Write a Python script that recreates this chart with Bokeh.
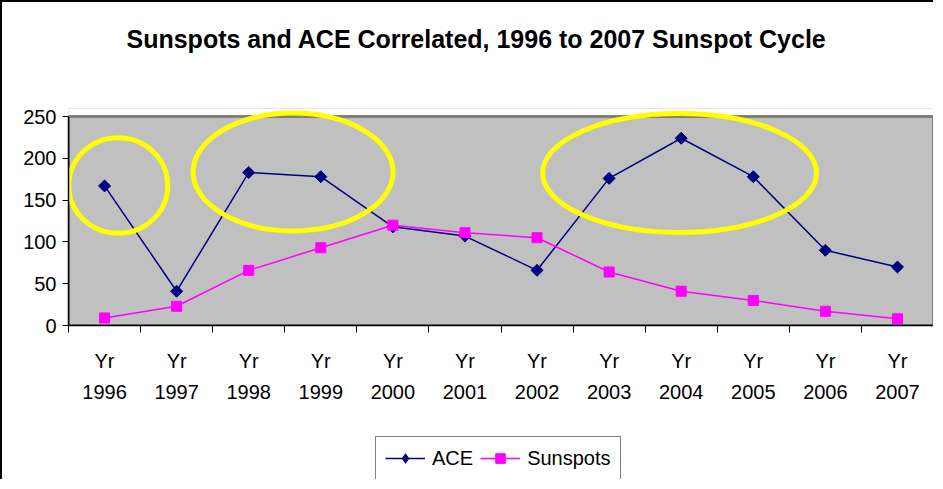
import numpy as np
from bokeh.plotting import figure
from bokeh.layouts import column
from bokeh.models import (LinearAxis, FixedTicker, Range1d, Legend, LegendItem,
                          BoxAnnotation, Title)
from bokeh.embed import file_html
from bokeh.resources import INLINE

# ---- data ----
years = ["1996", "1997", "1998", "1999", "2000", "2001", "2002", "2003", "2004", "2005", "2006", "2007"]
ace = [167, 41, 183, 178, 118, 107, 66, 176, 224, 178, 90, 70]
sunspots = [9, 23, 66, 93, 120, 111, 105, 64, 41, 30, 17, 8]
y_ticks = [0, 50, 100, 150, 200, 250]
y_max = 250

# highlight ellipses (center x, center y, width, height) in data units
ell_cx = [0.69, 3.115, 8.477]
ell_cy = [167.5, 183.6, 182.4]
ell_w = [1.373, 2.775, 3.80]
ell_h = [114.4, 141.0, 142.3]

FONT = "Liberation Sans"
n = len(years)
xc = [i + 0.5 for i in range(n)]
bounds = list(range(n + 1))

p = figure(width=933, height=430, output_backend="svg", toolbar_location=None,
           x_axis_type=None, y_axis_type=None, title=None,
           x_range=Range1d(0, n), y_range=Range1d(0, 259.6),
           min_border_left=66, min_border_right=2, min_border_top=106, min_border_bottom=107)
p.styles = {"border-left": "2px solid black", "border-top": "2px solid black"}

p.background_fill_color = "#C0C0C0"
p.border_fill_color = "white"
p.outline_line_color = None

# invisible spacer between plot area and title
sp = LinearAxis(ticker=FixedTicker(ticks=[0], minor_ticks=[]))
sp.major_label_overrides = {0: ""}
sp.major_label_text_font_size = "1px"
sp.major_label_standoff = 0
sp.axis_line_color = None
sp.major_tick_line_color = None
sp.major_tick_out = 56
sp.major_tick_in = 0
p.add_layout(sp, "above")

title = Title(text="Sunspots and ACE Correlated, 1996 to 2007 Sunspot Cycle",
              text_font=FONT, text_font_size="25px", text_font_style="bold",
              text_color="black", align="left", offset=58, standoff=0,
              vertical_align="bottom")
p.add_layout(title, "above")

# white strip above the plot area (room for the annotation ellipses)
p.add_layout(BoxAnnotation(bottom=y_max, fill_color="white", fill_alpha=1,
                           line_color=None, level="underlay"))
# plot-area border
p.add_layout(BoxAnnotation(left=0, right=n, bottom=0, top=y_max, fill_alpha=0,
                           line_color="#808080", line_width=3, line_alpha=1,
                           level="underlay"))

# y axis
yax = LinearAxis(ticker=FixedTicker(ticks=y_ticks, minor_ticks=[]), bounds=(0, y_max))
yax.axis_line_color = "black"
yax.axis_line_width = 1.5
yax.major_tick_out = 6
yax.major_tick_in = 0
yax.major_tick_line_color = "black"
yax.major_label_standoff = 6
yax.major_label_text_font = FONT
yax.major_label_text_font_size = "20px"
yax.major_label_text_color = "black"
p.add_layout(yax, "left")

# x axis line with ticks between categories
xax0 = LinearAxis(ticker=FixedTicker(ticks=bounds, minor_ticks=[]))
xax0.major_label_overrides = {b: "" for b in bounds}
xax0.major_label_text_font_size = "1px"
xax0.major_label_standoff = 0
xax0.axis_line_color = "black"
xax0.axis_line_width = 1.5
xax0.major_tick_out = 7
xax0.major_tick_in = 0
xax0.major_tick_line_color = "black"
p.add_layout(xax0, "below")

# "Yr" row
xax1 = LinearAxis(ticker=FixedTicker(ticks=xc, minor_ticks=[]))
xax1.major_label_overrides = {x: "Yr" for x in xc}
xax1.axis_line_color = None
xax1.major_tick_line_color = None
xax1.major_tick_out = 0
xax1.major_tick_in = 0
xax1.major_label_standoff = 17
xax1.major_label_text_font = FONT
xax1.major_label_text_font_size = "20px"
xax1.major_label_text_color = "black"
p.add_layout(xax1, "below")

# year row
xax2 = LinearAxis(ticker=FixedTicker(ticks=xc, minor_ticks=[]))
xax2.major_label_overrides = {x: y for x, y in zip(xc, years)}
xax2.axis_line_color = None
xax2.major_tick_line_color = None
xax2.major_tick_out = 0
xax2.major_tick_in = 0
xax2.major_label_standoff = 10
xax2.major_label_text_font = FONT
xax2.major_label_text_font_size = "20px"
xax2.major_label_text_color = "black"
p.add_layout(xax2, "below")

p.ygrid.ticker = FixedTicker(ticks=[50, 100, 150, 200])
p.ygrid.grid_line_color = "black"
p.ygrid.grid_line_width = 1
p.xgrid.grid_line_color = None

p.line(xc, ace, line_color="#000080", line_width=1.5)
p.scatter(xc, ace, marker="square", angle=np.pi / 4, size=8.5,
          fill_color="#000080", line_color="#000080")
p.line(xc, sunspots, line_color="#FF00FF", line_width=1.5)
p.scatter(xc, sunspots, marker="square", size=10,
          fill_color="#FF00FF", line_color="#FF00FF")

p.ellipse(x=ell_cx, y=ell_cy, width=ell_w, height=ell_h, fill_alpha=0,
          line_color="#FFFF00", line_width=5)

# ---- legend strip (series drawn off-range; only their legend keys show) ----
p2 = figure(width=933, height=49, output_backend="svg", toolbar_location=None,
            x_axis_type=None, y_axis_type=None, title=None,
            x_range=Range1d(0, 1), y_range=Range1d(-2, -1),
            min_border_left=0, min_border_right=0, min_border_top=0, min_border_bottom=0)
p2.styles = {"border-left": "2px solid black"}
p2.outline_line_color = None
p2.background_fill_color = "white"
p2.grid.grid_line_color = None
l1 = p2.line(xc, ace, line_color="#000080", line_width=1.5)
m1 = p2.scatter(xc, ace, marker="diamond", size=10, fill_color="#000080", line_color="#000080")
l2 = p2.line(xc, sunspots, line_color="#FF00FF", line_width=1.5)
m2 = p2.scatter(xc, sunspots, marker="square", size=10, fill_color="#FF00FF", line_color="#FF00FF")

legend = Legend(items=[LegendItem(label="ACE", renderers=[l1, m1]),
                       LegendItem(label="Sunspots", renderers=[l2, m2])],
                orientation="horizontal", location=(307, -1))
legend.border_line_color = "black"
legend.border_line_width = 1
legend.background_fill_color = "white"
legend.background_fill_alpha = 1
legend.label_text_font = FONT
legend.label_text_font_size = "20px"
legend.label_text_color = "black"
legend.glyph_width = 40
legend.glyph_height = 24
legend.label_height = 24
legend.padding = 9
legend.spacing = 7
legend.label_standoff = 7
legend.margin = 0
p2.add_layout(legend, "center")

layout = column(p, p2, spacing=0)
open("out.html", "w").write(file_html(layout, INLINE))
